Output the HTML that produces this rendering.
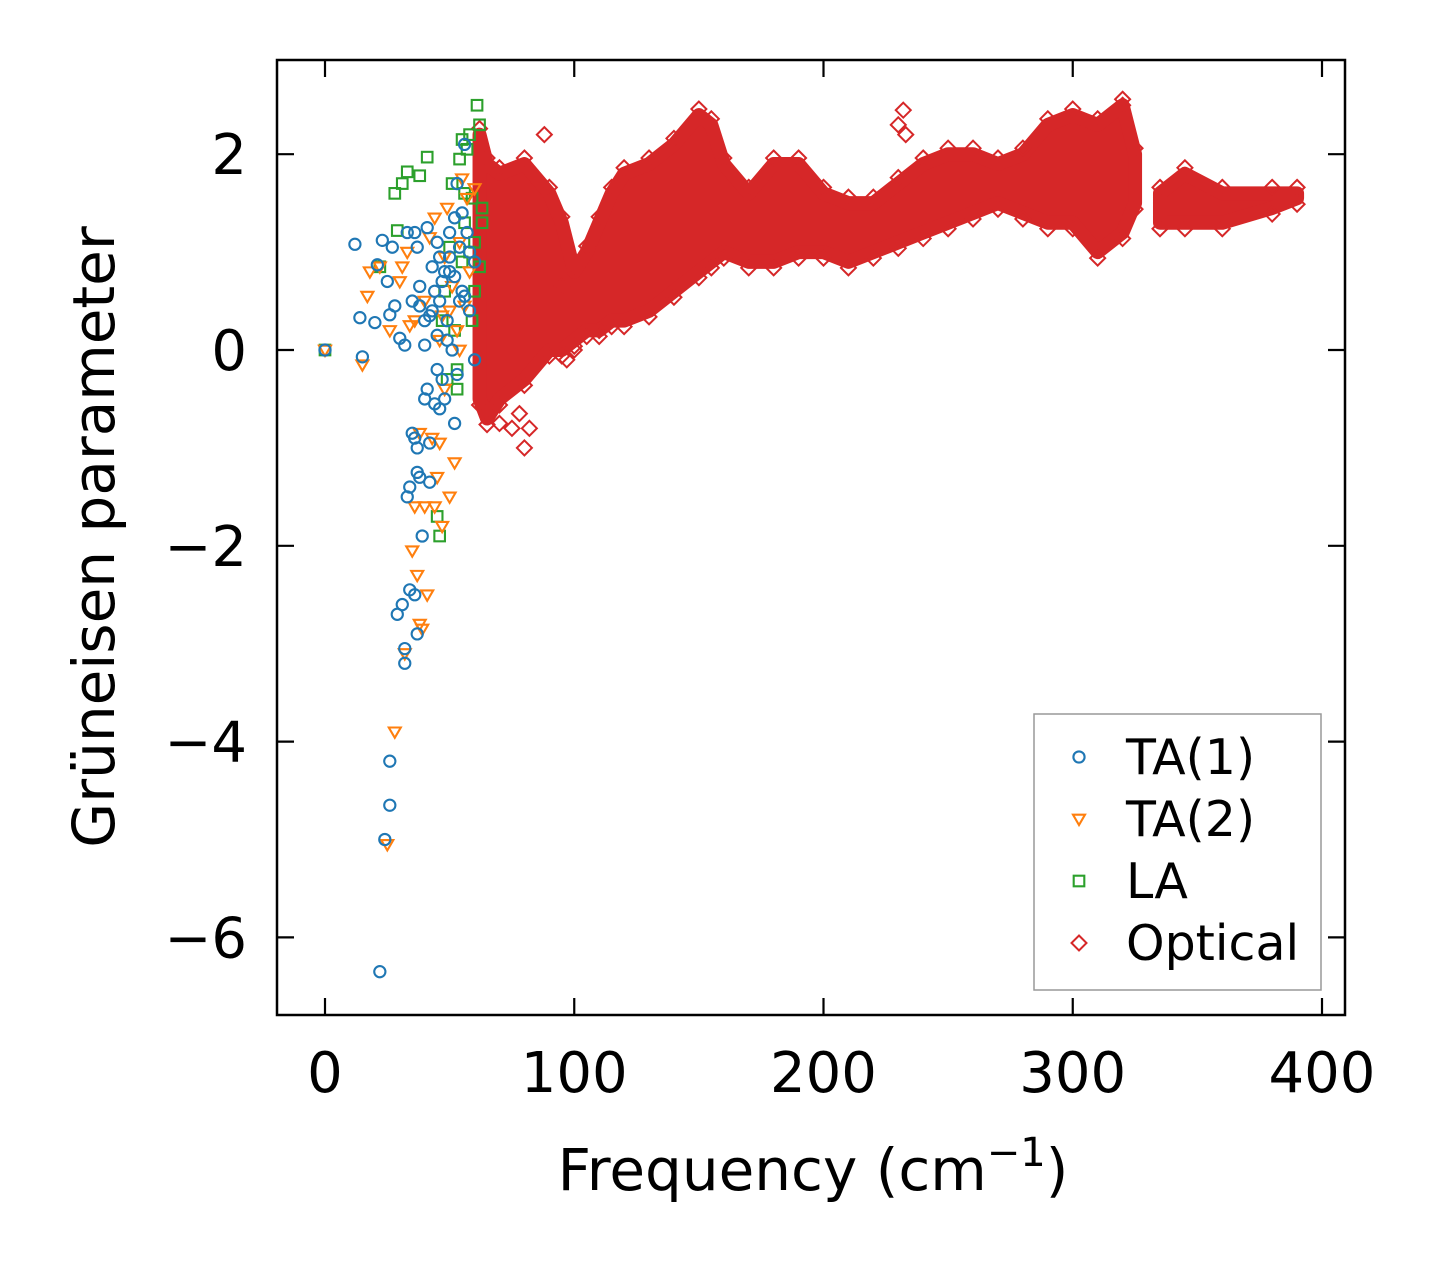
<!DOCTYPE html>
<html><head><meta charset="utf-8"><style>
html,body{margin:0;padding:0;background:#fff;width:1437px;height:1264px;overflow:hidden}
svg{display:block}
text{font-family:"DejaVu Sans","Liberation Sans",sans-serif;fill:#000}
</style></head><body>
<svg id="chart" width="1437" height="1264" viewBox="0 0 1437 1264" xmlns="http://www.w3.org/2000/svg">
<g id="marks"></g>
<g id="axes"></g>
<g id="legend"></g>
</svg>
<script>
// ---- data ----
const xTicks=[0,100,200,300,400];
const yTicks=[2,0,-2,-4,-6];
const ta1X=[0,12,14,15,20,21,22,23,24,25,26,26,26,27,28,29,30,31,32,32,32,33,33,34,34,35,35,36,36,36,37,37,37,37,38,38,39,40,40,41,41,42,42,43,43,44,45,45,46,46,47,47,48,49,50,50,51,52,52,53,54,55,55,56,57,58,58,60,60,44,46,48,50,52,54,56,42,40,38,45,49,53];
const ta1Y=[0,1.08,0.33,-0.07,0.28,0.87,-6.35,1.12,-5.0,0.7,-4.65,0.36,-4.2,1.05,0.45,-2.7,0.12,-2.6,-3.05,-3.2,0.05,-1.5,1.2,-2.45,-1.4,0.5,-0.85,1.2,-0.9,-2.5,-1.0,-2.9,1.05,-1.25,0.65,-1.3,-1.9,0.05,-0.5,1.25,-0.4,-0.95,-1.35,0.85,0.4,-0.55,0.15,1.1,-0.6,0.95,0.7,-0.3,-0.5,0.3,1.2,0.8,0.0,-0.75,1.35,1.7,1.05,1.4,0.6,2.1,1.2,0.4,1.0,0.9,-0.1,0.6,0.5,0.8,0.95,0.75,0.5,0.55,0.35,0.3,0.45,-0.2,0.1,-0.25];
const ta2X=[0,15,17,18,22,25,26,28,30,31,32,33,34,35,36,37,38,39,40,40,41,42,43,44,45,46,47,47,48,49,50,51,52,53,54,55,56,57,58,60,44,46,48,38,36,50,54];
const ta2Y=[0,-0.15,0.55,0.8,0.85,-5.05,0.2,-3.9,0.7,0.85,-3.1,1.0,0.25,-2.05,-1.6,-2.3,-2.8,-2.85,-1.6,0.5,-2.5,1.15,-0.9,1.35,-1.3,-0.95,-1.8,0.35,0.95,1.45,-1.5,0.65,-1.15,0.2,1.1,1.75,0.45,1.55,0.8,1.65,-1.6,0.1,-0.4,-0.85,0.3,0.4,0.0];
const laX=[0,22,28,29,31,33,38,41,45,46,47,48,49,50,51,52,53,54,55,56,57,58,59,60,61,62,63,63,62,58,55,53,56,59,60];
const laY=[0,0.85,1.6,1.22,1.7,1.82,1.78,1.97,-1.7,-1.9,0.3,0.6,-0.3,1.05,1.7,0.2,-0.4,1.95,2.15,1.6,2.05,2.2,1.55,0.6,2.5,2.3,1.45,1.3,0.85,1.0,0.9,-0.2,1.3,0.3,1.1];
const optX=[62,65,70,80,90,95,100,105,110,115,120,130,140,150,155,160,170,180,190,200,210,220,230,240,250,260,270,280,290,300,310,320,325];
const optLow=[-0.5,-0.7,-0.5,-0.3,0.0,0.0,0.1,0.2,0.2,0.3,0.3,0.4,0.6,0.8,0.9,1.0,0.9,0.9,1.0,1.0,0.9,1.0,1.1,1.2,1.3,1.4,1.5,1.4,1.3,1.3,1.0,1.2,1.5];
const optHigh=[2.2,1.9,1.8,1.9,1.6,1.3,0.8,1.0,1.3,1.6,1.8,1.9,2.1,2.4,2.3,1.9,1.6,1.9,1.9,1.6,1.5,1.5,1.7,1.9,2.0,2.0,1.9,2.0,2.3,2.4,2.3,2.5,2.0];
const opt2X=[335,345,360,380,390];
const opt2Low=[1.3,1.3,1.3,1.45,1.55];
const opt2High=[1.6,1.8,1.6,1.6,1.6];
const optOutX=[80,82,75,78,88,232,233,230,320,100,97,70,65,110,95];
const optOutY=[-1.0,-0.8,-0.8,-0.65,2.2,2.45,2.2,2.3,2.5,0.0,-0.1,-0.75,-0.6,0.2,0.65];

// ---- scales ----
const L=277,R=1345,T=60,B=1015;
const sx=v=>325+v*2.4925;
const sy=v=>350-v*97.9;
const NS="http://www.w3.org/2000/svg";
function mk(tag,attrs,parent){const e=document.createElementNS(NS,tag);for(const k in attrs)e.setAttribute(k,attrs[k]);parent.appendChild(e);return e;}
const marks=document.getElementById('marks');
const axes=document.getElementById('axes');
const legend=document.getElementById('legend');
const RED='#d62728',BLUE='#1f77b4',ORANGE='#ff7f0e',GREEN='#2ca02c';

function diamond(x,y,g){const s=7.5;const p=mk('polygon',{points:`${x},${y-s} ${x+s},${y} ${x},${y+s} ${x-s},${y}`,fill:'none',stroke:RED,'stroke-width':2},g);

}
function circle(x,y,g){const c=mk('circle',{cx:x,cy:y,r:5.6,fill:'none',stroke:BLUE,'stroke-width':2.1},g);

}
function tri(x,y,g){const p=mk('polygon',{points:`${x-6},${y-4.3} ${x+6},${y-4.3} ${x},${y+6}`,fill:'none',stroke:ORANGE,'stroke-width':2.1},g);

}
function sq(x,y,g){const p=mk('rect',{x:x-5.3,y:y-5.3,width:10.6,height:10.6,fill:'none',stroke:GREEN,'stroke-width':2.1},g);

}

function band(xs,lo,hi,name){
  let pts=xs.map((x,i)=>sx(x)+','+sy(hi[i]));
  for(let i=xs.length-1;i>=0;i--)pts.push(sx(xs[i])+','+sy(lo[i]));
  const p=mk('polygon',{points:pts.join(' '),fill:RED,stroke:RED,'stroke-width':14,'stroke-linejoin':'round'},marks);
  
  
  xs.forEach((x,i)=>{diamond(sx(x),sy(hi[i])-6,marks);diamond(sx(x),sy(lo[i])+6,marks);});
}
band(optX,optLow,optHigh,'optical-band');
band(opt2X,opt2Low,opt2High,'optical-band-high');
optOutX.forEach((x,i)=>diamond(sx(x),sy(optOutY[i]),marks));
laX.forEach((x,i)=>sq(sx(x),sy(laY[i]),marks));
ta2X.forEach((x,i)=>tri(sx(x),sy(ta2Y[i]),marks));
ta1X.forEach((x,i)=>circle(sx(x),sy(ta1Y[i]),marks));

const fr=mk('rect',{x:L,y:T,width:R-L,height:B-T,fill:'none',stroke:'#000','stroke-width':2.5},axes);


const tl=17;
xTicks.forEach(v=>{const x=sx(v);
  mk('line',{x1:x,y1:B,x2:x,y2:B-tl,stroke:'#000','stroke-width':2.2},axes);
  mk('line',{x1:x,y1:T,x2:x,y2:T+tl,stroke:'#000','stroke-width':2.2},axes);
  const t=mk('text',{x:x,y:1092,'font-size':56,'text-anchor':'middle'},axes);t.textContent=v;
  
  
});
yTicks.forEach(v=>{const y=sy(v);
  mk('line',{x1:L,y1:y,x2:L+tl,y2:y,stroke:'#000','stroke-width':2.2},axes);
  mk('line',{x1:R,y1:y,x2:R-tl,y2:y,stroke:'#000','stroke-width':2.2},axes);
  const t=mk('text',{x:247,y:y+20,'font-size':56,'text-anchor':'end'},axes);t.textContent=(v<0?'\u2212'+(-v):v);
  
  
});
const xl=mk('text',{x:813,y:1190,'font-size':58,'text-anchor':'middle'},axes);
xl.innerHTML='Frequency (cm<tspan dy="-24" font-size="40">\u22121</tspan><tspan dy="24">)</tspan>';


const yl=mk('text',{x:0,y:0,'font-size':58,'text-anchor':'middle',transform:'translate(114,537) rotate(-90)'},axes);
yl.textContent='Grüneisen parameter';



const lb=mk('rect',{x:1034,y:714,width:287,height:276,fill:'#fff',stroke:'#999','stroke-width':1.5},legend);


const labels=['TA(1)','TA(2)','LA','Optical'];
const fns=[circle,tri,sq,diamond];
labels.forEach((s,i)=>{const y=757+i*62;
  const g=mk('g',{},legend);
  
  
  fns[i](1079,y,g);
  const t=mk('text',{x:1126,y:y+17,'font-size':49},g);t.textContent=s;
});
</script>
</body></html>
